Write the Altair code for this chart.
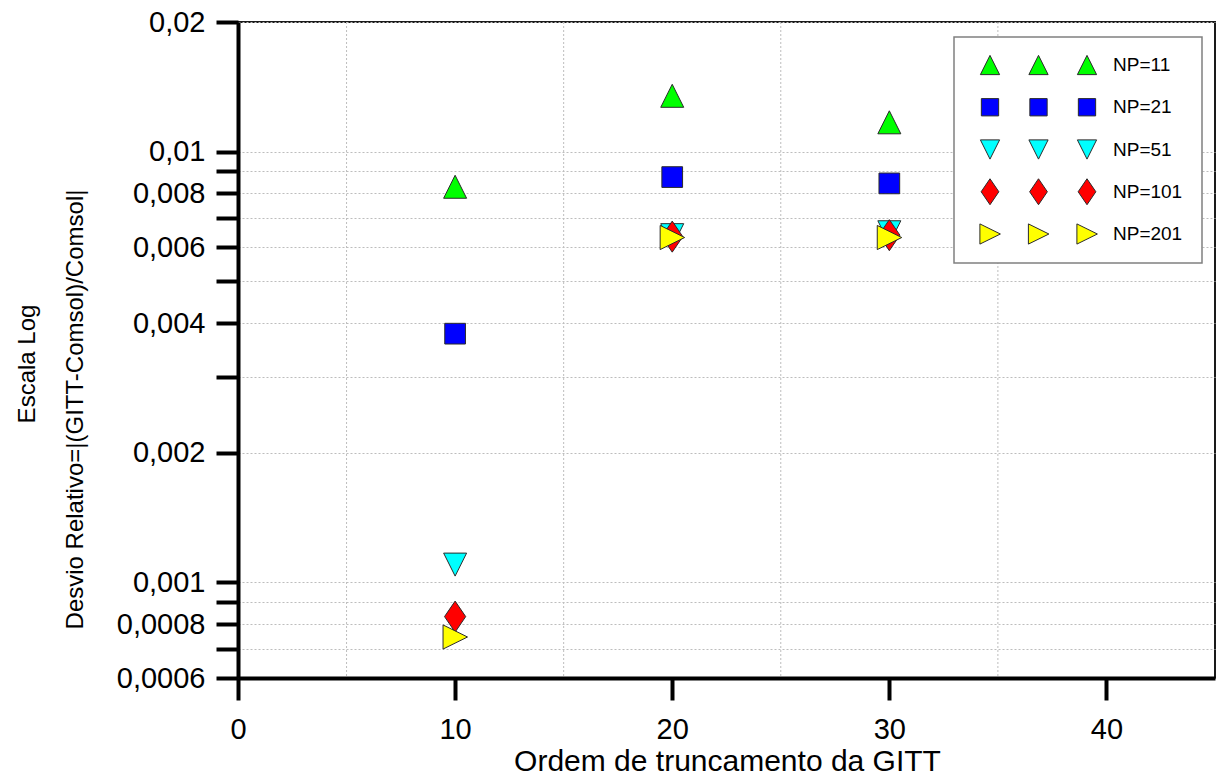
import altair as alt
import pandas as pd

# Truncation order of the GITT expansion
order = [10, 20, 30]

# Relative deviation |(GITT-Comsol)/Comsol| for each number of points
series_names = ["NP=11", "NP=21", "NP=51", "NP=101", "NP=201"]
np11 = [0.00829, 0.01348, 0.0117]
np21 = [0.00378, 0.00873, 0.00844]
np51 = [0.0011, 0.0064, 0.0065]
np101 = [0.000833, 0.00635, 0.0064]
np201 = [0.000747, 0.00632, 0.00632]

fills = ["#00ff00", "#0000ff", "#00ffff", "#ff0000", "#ffff00"]
# symbol outlines in unit coordinates (scaled by sqrt(size)/2)
shapes = [
    "M0,-1L1,1L-1,1Z",
    "M-0.9,-0.9L0.9,-0.9L0.9,0.9L-0.9,0.9Z",
    "M-1,-1L1,-1L0,1Z",
    "M0,-1.35L0.92,0L0,1.35L-0.92,0Z",
    "M-1.05,-1.05L1.08,0L-1.05,1.05Z",
]

x_ticks = [0, 10, 20, 30, 40]
x_grid = [5, 15, 25, 35]
y_ticks = [0.0006, 0.0007, 0.0008, 0.0009, 0.001, 0.002, 0.003, 0.004,
           0.005, 0.006, 0.007, 0.008, 0.009, 0.01, 0.02]
y_labeled = [0.0006, 0.0008, 0.001, 0.002, 0.004, 0.006, 0.008, 0.01, 0.02]

FONT = "Liberation Sans, Arial, sans-serif"

rows = []
for name, vals in zip(series_names, [np11, np21, np51, np101, np201]):
    for x, v in zip(order, vals):
        rows.append({"series": name, "ordem": x, "desvio": v})
df = pd.DataFrame(rows)

shape_enc = alt.Shape("series:N", scale=alt.Scale(domain=series_names, range=shapes), legend=None)
fill_enc = alt.Fill("series:N", scale=alt.Scale(domain=series_names, range=fills), legend=None)

x_enc = alt.X(
    "ordem:Q",
    scale=alt.Scale(domain=[0, 45], nice=False, zero=False),
    axis=alt.Axis(
        values=x_ticks, grid=False, format="d",
        domainColor="black", domainWidth=4,
        tickColor="black", tickWidth=4, tickSize=22,
        labelFont=FONT, labelFontSize=29, labelColor="black", labelPadding=15,
        labelFlush=False, labelOverlap=False, labelBound=False,
        title="Ordem de truncamento da GITT",
        titleFont=FONT, titleFontSize=30, titleFontWeight="normal", titleColor="black",
        titleX=489, titleY=83, titleBaseline="middle", titleAlign="center",
    ),
)

label_expr = ("indexof(" + str(y_labeled) + ", datum.value) >= 0 ? "
              "replace(toString(datum.value), '.', ',') : ''")

y_enc = alt.Y(
    "desvio:Q",
    scale=alt.Scale(type="log", domain=[0.0006, 0.02], nice=False),
    axis=alt.Axis(
        values=y_ticks, labelExpr=label_expr,
        grid=True, gridColor="#bdbdbd", gridDash=[2, 2], gridWidth=1,
        domainColor="black", domainWidth=4,
        tickColor="black", tickWidth=4, tickSize=22,
        labelFont=FONT, labelFontSize=29, labelColor="black", labelPadding=11,
        labelOverlap=False, labelBound=False, labelFlush=False,
        title="Desvio Relativo=|(GITT-Comsol)/Comsol|",
        titleFont=FONT, titleFontSize=24, titleFontWeight="normal", titleColor="black",
        titleAngle=270, titleX=-163, titleY=387, titleBaseline="middle", titleAlign="center",
    ),
)

# dotted vertical grid at the minor x positions
vgrid = alt.Chart(pd.DataFrame({"ordem": x_grid})).mark_rule(
    color="#bdbdbd", strokeDash=[2, 2], strokeWidth=1
).encode(x=x_enc)

points = alt.Chart(df).mark_point(
    filled=True, size=529, opacity=1, stroke="#2b2b2b", strokeWidth=1
).encode(x=x_enc, y=y_enc, shape=shape_enc, fill=fill_enc)

extra_title = alt.Chart(pd.DataFrame({"k": [0]})).mark_text(
    text="Escala Log", angle=270, font=FONT, fontSize=24, color="black",
    align="center", baseline="middle"
).encode(x=alt.value(-210), y=alt.value(342))

main = alt.layer(vgrid, points, extra_title)

# boxed legend with three symbols per entry
leg_rows = []
for i, name in enumerate(series_names):
    for slot in range(3):
        leg_rows.append({"series": name, "row": i, "slot": slot})
leg_df = pd.DataFrame(leg_rows)
lab_df = pd.DataFrame({"series": series_names, "row": list(range(len(series_names)))})

row_scale = alt.Scale(domain=[0, 4], range=[43, 212])

legend_box = alt.Chart(pd.DataFrame({"k": [0]})).mark_rect(
    fill="white", stroke="#808080", strokeWidth=1.5
).encode(x=alt.value(716), x2=alt.value(964), y=alt.value(15), y2=alt.value(241))

legend_syms = alt.Chart(leg_df).mark_point(
    filled=True, size=370, opacity=1, stroke="#2b2b2b", strokeWidth=1
).encode(
    x=alt.X("slot:Q", scale=alt.Scale(domain=[0, 2], range=[752, 849]), axis=None),
    y=alt.Y("row:Q", scale=row_scale, axis=None),
    shape=shape_enc, fill=fill_enc,
)

legend_text = alt.Chart(lab_df).mark_text(
    align="left", baseline="middle", font=FONT, fontSize=19, color="black"
).encode(
    x=alt.value(875),
    y=alt.Y("row:Q", scale=row_scale, axis=None),
    text="series:N",
)

legend = alt.layer(legend_box, legend_syms, legend_text)

chart = alt.layer(main, legend).resolve_scale(
    x="independent", y="independent"
).properties(
    width=977, height=656,
    autosize=alt.AutoSizeParams(type="none"),
    padding={"left": 238, "top": 22, "right": 2, "bottom": 97},
    background="white",
).configure_view(stroke="#1a1a1a", strokeWidth=2)

chart.save("out.html", embed_options={"renderer": "svg", "actions": False})
